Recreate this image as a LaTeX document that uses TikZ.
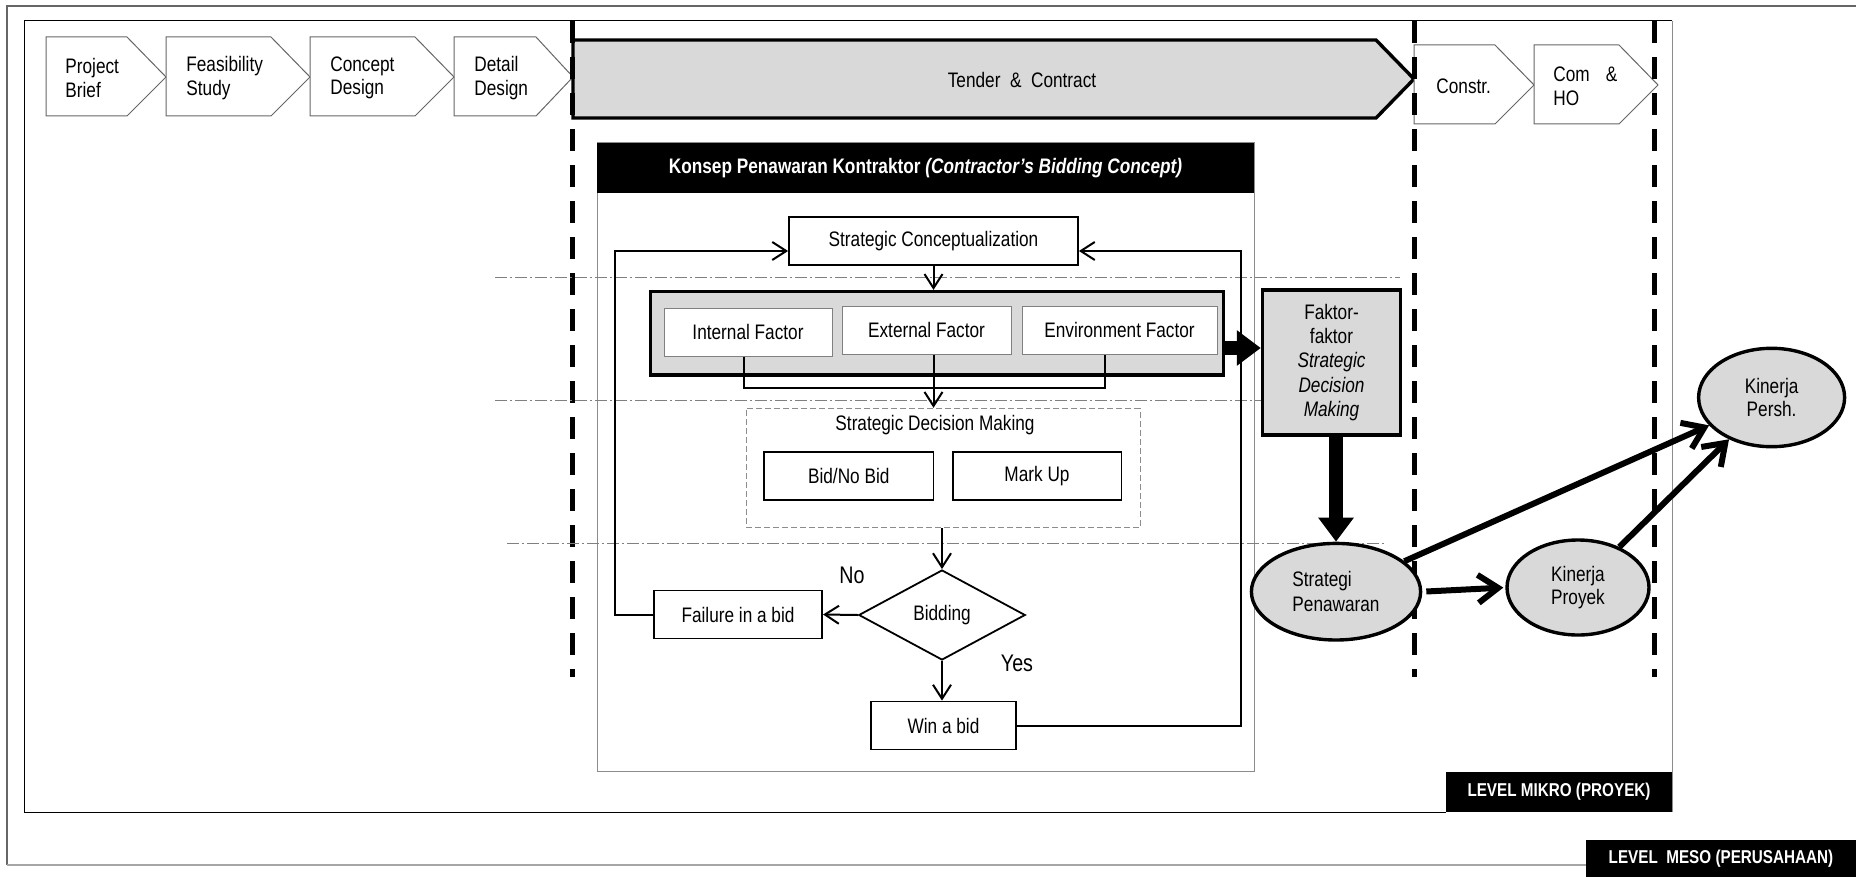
\documentclass[tikz,border=0pt]{standalone}
\usepackage{fontspec}
\setmainfont{Liberation Sans}[FakeStretch=0.82]
\usetikzlibrary{arrows.meta,shapes.geometric}

\tikzset{
  box/.style={draw, line width=0.9pt, fill=white, minimum height=24pt, inner sep=1pt},
  factorbox/.style={draw=black!50, line width=0.5pt, fill=white, minimum height=24pt, inner sep=1pt},
  thickbox/.style={draw, line width=1.7pt, fill=gray!30},
  oval/.style={ellipse, draw, line width=1.7pt, fill=gray!30, inner sep=0pt},
  chev/.style={draw=black!60, line width=0.5pt, fill=white},
  chevtext/.style={anchor=west, align=left, inner sep=0pt},
  flow/.style={line width=1pt, -{Straight Barb[length=7pt,width=9pt]}},
  link/.style={line width=1pt},
  bigflow/.style={line width=3pt, -{Straight Barb[length=10pt,width=14pt]}},
  fatarrow/.style={line width=7pt, -{Triangle[length=12pt,width=17pt]}},
  phase/.style={line width=2.5pt, dash pattern=on 11pt off 7pt},
  guide/.style={draw=black!50, line width=0.4pt, dash pattern=on 6pt off 1.5pt on 1pt off 1.5pt},
  tag/.style={fill=black, text=white, inner sep=0pt, font=\bfseries\fontsize{9.3}{11}\selectfont}
}

\begin{document}
\begin{tikzpicture}[x=0.5pt, y=-0.5pt, font=\fontsize{10.5}{11.8}\selectfont]
\useasboundingbox (0,0) rectangle (1856,877);

\draw[black!60, line width=0.6pt] (1856,6) -- (7,6) -- (7,865);
\draw[black!35, line width=1pt] (7,865) -- (1586,865);
\draw[line width=0.5pt] (1672,21) -- (24,21) -- (24,812) -- (1446,812);
\draw[black!45, line width=0.5pt] (1672,21) -- (1672,812);

\draw[chev] (46,37) -- (127,37) -- (166,77) -- (127,116) -- (46,116) -- cycle;
\draw[chev] (166,37) -- (271,37) -- (310,77) -- (271,116) -- (166,116) -- cycle;
\draw[chev] (310,37) -- (415,37) -- (454,77) -- (415,116) -- (310,116) -- cycle;
\draw[chev] (454,37) -- (536,37) -- (573,77) -- (536,116) -- (454,116) -- cycle;
\node[chevtext] (brief) at (65,78) {Project\\Brief};
\node[chevtext] (feasibility) at (186,78) {Feasibility\\Study};
\node[chevtext] (conceptdesign) at (330,78) {Concept\\Design};
\node[chevtext] (detaildesign) at (474,78) {Detail\\Design};

\draw[thickbox] (573,40) -- (1376,40) -- (1414,79) -- (1376,118) -- (573,118) -- cycle;
\node (tender) at (1022,80) {Tender\ \ \&\ \ Contract};

\draw[chev] (1414,45) -- (1495,45) -- (1534,85) -- (1495,124) -- (1414,124) -- cycle;
\draw[chev] (1534,45) -- (1619,45) -- (1658,85) -- (1619,124) -- (1534,124) -- cycle;
\node[chevtext] (constr) at (1436,86) {Constr.};
\node[chevtext] (handover) at (1553,86) {Com\hspace{8pt}\&\\HO};

\draw[phase] (572,21) -- (572,677);
\draw[phase] (1414,21) -- (1414,677);
\draw[phase] (1654,21) -- (1654,677);

\draw[draw=black!45, fill=white, line width=0.5pt] (597,143) rectangle (1254,771);
\node[fill=black, text=white, minimum width=328.5pt, minimum height=25pt, inner sep=0pt] (header) at (925.5,168)
  {\bfseries Konsep Penawaran Kontraktor \textit{(Contractor's Bidding Concept)}};

\draw[guide] (495,277) -- (1400,277);
\draw[guide] (495,400) -- (1262,400);
\draw[guide] (507,543) -- (1385,543);

\node[box, minimum width=144.5pt] (concept) at (933.5,241) {Strategic Conceptualization};
\node[thickbox, minimum width=286.75pt, minimum height=41.7pt] (factors) at (937,333.3) {};
\node[factorbox, minimum width=84pt] (internal) at (748,332) {Internal Factor};
\node[factorbox, minimum width=84.5pt] (external) at (926.5,330) {External Factor};
\node[factorbox, minimum width=97.5pt] (environment) at (1119.5,330) {Environment Factor};

\node[draw=black!45, line width=0.5pt, dash pattern=on 3pt off 1.5pt, minimum width=197pt, minimum height=59.7pt] (decision) at (943,468) {};
\node (decisionlabel) at (935,425) {Strategic Decision Making};
\node[box, minimum width=84.75pt] (bid) at (848.75,476) {Bid/No Bid};
\node[box, minimum width=84.4pt] (markup) at (1037,476) {Mark Up};

\node[diamond, draw, line width=0.9pt, fill=white, minimum width=83.25pt, minimum height=45pt, inner sep=0pt] (bidding) at (942,615) {Bidding};
\node[box, minimum width=84.15pt] (failure) at (738,614.5) {Failure in a bid};
\node[box, minimum width=72.5pt] (win) at (943.5,725.5) {Win a bid};
\node[font=\fontsize{12}{14}\selectfont] (no) at (852,575) {No};
\node[font=\fontsize{12}{14}\selectfont] (yes) at (1017,663) {Yes};

\coordinate (loopleft) at (615,251);
\coordinate (loopright) at (1241,251);
\coordinate (joinleft) at (744,388);
\coordinate (joinright) at (1104.5,388);
\draw[flow] (failure.west) -| (loopleft) -- (loopleft -| concept.west);
\draw[flow] (win.east) -| (loopright) -- (loopright -| concept.east);
\draw[flow] (concept.south) -- (concept.south |- factors.north);
\draw[link] (joinleft |- internal.south) -- (joinleft) -- (joinright) -- (joinright |- environment.south);
\draw[flow] (concept.south |- external.south) -- (concept.south |- decision.north);
\draw[flow] (decision.south -| bidding.north) -- (bidding.north);
\draw[flow] (bidding.west) -- (failure.east);
\draw[flow] (bidding.south) -- (bidding.south |- win.north);

\node[thickbox, minimum width=69pt, minimum height=72.5pt, align=center, inner sep=0pt,
  font=\fontsize{10.5}{12.2}\selectfont] (faktor) at (1331.5,362.5)
  {Faktor-\\faktor\\\textit{Strategic}\\\textit{Decision}\\\textit{Making}};
\coordinate (fatrow) at (0,348);
\draw[fatarrow] (factors.east |- fatrow) -- (faktor.west |- fatrow);

\node[oval, minimum width=84.6pt, minimum height=48.3pt, align=left, font=\fontsize{10.5}{12.5}\selectfont] (strategy) at (1336,591.7) {Strategi\\Penawaran};
\node[oval, minimum width=71pt, minimum height=47.5pt, align=center] (projectperf) at (1578,587.5) {Kinerja\\Proyek};
\node[oval, minimum width=73pt, minimum height=49.2pt, align=center] (firmperf) at (1771.6,397.5) {Kinerja\\Persh.};
\draw[fatarrow] (faktor.south -| strategy.north) -- (strategy.north);
\draw[bigflow, shorten <=2pt, shorten >=1pt] (strategy.east) -- (projectperf.west);
\draw[bigflow] (strategy) -- (firmperf);
\draw[bigflow] (projectperf) -- (firmperf);

\node[tag, minimum width=113pt, minimum height=20pt] (mikro) at (1559,792) {LEVEL MIKRO (PROYEK)};
\node[tag, minimum width=135pt, minimum height=18.5pt] (meso) at (1721,858.5) {LEVEL\ \ MESO (PERUSAHAAN)};
\end{tikzpicture}
\end{document}
